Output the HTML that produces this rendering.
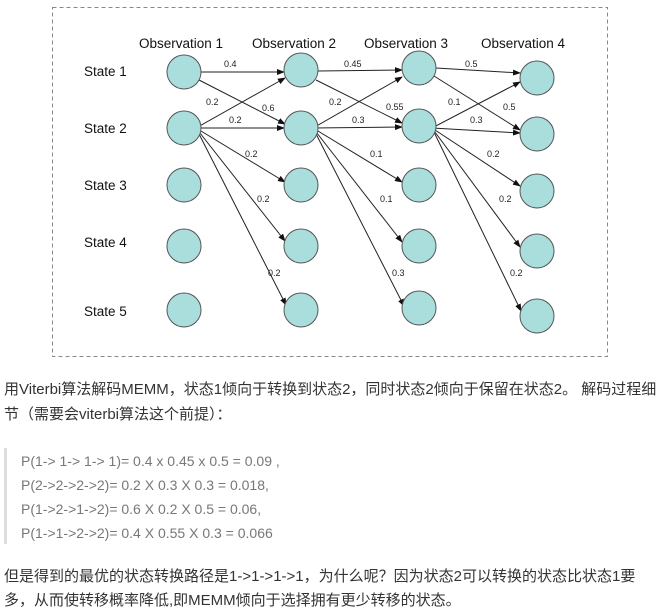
<!DOCTYPE html>
<html><head><meta charset="utf-8"><style>
html,body{margin:0;padding:0;background:#fff;width:659px;height:613px;overflow:hidden;position:relative}
.t{position:absolute;left:4px;font-family:"Liberation Sans","Noto Sans CJK SC",sans-serif;font-size:15px;color:#333;white-space:nowrap;line-height:24px}
.q{position:absolute;left:21px;font-family:"Liberation Sans","Noto Sans CJK SC",sans-serif;font-size:14px;color:#777;white-space:nowrap;line-height:24px}
</style></head><body>
<svg width="659" height="360" style="position:absolute;left:0;top:0" font-family="Liberation Sans, sans-serif">
<defs><marker id="a" markerWidth="8" markerHeight="6" refX="7" refY="3" orient="auto" markerUnits="userSpaceOnUse"><path d="M0,0 L8,3 L0,6z" fill="#111"/></marker></defs>
<rect x="52.5" y="7.5" width="555" height="349" fill="none" stroke="#888" stroke-dasharray="4,3"/>
<g font-size="13.5" fill="#111">
<text x="139" y="48">Observation 1</text><text x="252" y="48">Observation 2</text><text x="364" y="48">Observation 3</text><text x="481" y="48">Observation 4</text>
<text x="84" y="76">State 1</text><text x="84" y="133">State 2</text><text x="84" y="190">State 3</text><text x="84" y="247">State 4</text><text x="84" y="316">State 5</text>
</g>
<g stroke="#222" stroke-width="1" marker-end="url(#a)" fill="none">
<!-- col1 -> col2 -->
<line x1="201" y1="72" x2="284" y2="72"/>
<line x1="199" y1="80" x2="285" y2="124"/>
<line x1="196" y1="128" x2="285" y2="78"/>
<line x1="196" y1="128" x2="284" y2="128"/>
<line x1="196" y1="128" x2="285" y2="182"/>
<line x1="196" y1="128" x2="285" y2="241"/>
<line x1="196" y1="128" x2="286" y2="305"/>
<!-- col2 -> col3 -->
<line x1="318" y1="71" x2="402" y2="70"/>
<line x1="316" y1="80" x2="402" y2="123"/>
<line x1="313" y1="128" x2="402" y2="77"/>
<line x1="313" y1="128" x2="402" y2="127"/>
<line x1="313" y1="128" x2="402" y2="182"/>
<line x1="313" y1="128" x2="402" y2="242"/>
<line x1="313" y1="128" x2="404" y2="306"/>
<!-- col3 -> col4 -->
<line x1="436" y1="68" x2="520" y2="73"/>
<line x1="434" y1="76" x2="520" y2="130"/>
<line x1="432" y1="128" x2="520" y2="82"/>
<line x1="432" y1="128" x2="520" y2="133"/>
<line x1="432" y1="128" x2="520" y2="186"/>
<line x1="432" y1="128" x2="520" y2="247"/>
<line x1="432" y1="128" x2="521" y2="311"/>
</g>
<g fill="#a9dedd" stroke="#555" stroke-width="1">
<circle cx="184" cy="72" r="17"/><circle cx="184" cy="128" r="17"/><circle cx="184" cy="185" r="17"/><circle cx="184" cy="246" r="17"/><circle cx="184" cy="310" r="17"/>
<circle cx="301" cy="70" r="17"/><circle cx="301" cy="128" r="17"/><circle cx="301" cy="185" r="17"/><circle cx="301" cy="246" r="17"/><circle cx="301" cy="310" r="17"/>
<circle cx="419" cy="68" r="17"/><circle cx="419" cy="126" r="17"/><circle cx="419" cy="185" r="17"/><circle cx="419" cy="246" r="17"/><circle cx="419" cy="308" r="17"/>
<circle cx="537" cy="78" r="17"/><circle cx="537" cy="134" r="17"/><circle cx="537" cy="191" r="17"/><circle cx="537" cy="251" r="17"/><circle cx="537" cy="316" r="17"/>
</g>
<g font-size="9" fill="#222">
<text x="224" y="67">0.4</text><text x="206" y="105">0.2</text><text x="262" y="111">0.6</text><text x="229" y="123">0.2</text><text x="245" y="157">0.2</text><text x="257" y="202">0.2</text><text x="268" y="276">0.2</text>
<text x="344" y="67">0.45</text><text x="329" y="105">0.2</text><text x="386" y="110">0.55</text><text x="352" y="123">0.3</text><text x="370" y="157">0.1</text><text x="380" y="202">0.1</text><text x="392" y="276">0.3</text>
<text x="465" y="67">0.5</text><text x="448" y="105">0.1</text><text x="503" y="110">0.5</text><text x="470" y="123">0.3</text><text x="487" y="157">0.2</text><text x="499" y="202">0.2</text><text x="510" y="276">0.2</text>
</g>
</svg>
<div class="t" style="top:378px">用Viterbi算法解码MEMM，状态1倾向于转换到状态2，同时状态2倾向于保留在状态2。 解码过程细</div>
<div class="t" style="top:403px">节（需要会viterbi算法这个前提）：</div>
<div style="position:absolute;left:4px;top:448px;width:3px;height:96px;background:#ddd"></div>
<div class="q" style="top:449px">P(1-&gt; 1-&gt; 1-&gt; 1)= 0.4 x 0.45 x 0.5 = 0.09 ,</div>
<div class="q" style="top:473px">P(2-&gt;2-&gt;2-&gt;2)= 0.2 X 0.3 X 0.3 = 0.018,</div>
<div class="q" style="top:497px">P(1-&gt;2-&gt;1-&gt;2)= 0.6 X 0.2 X 0.5 = 0.06,</div>
<div class="q" style="top:521px">P(1-&gt;1-&gt;2-&gt;2)= 0.4 X 0.55 X 0.3 = 0.066</div>
<div class="t" style="top:565px">但是得到的最优的状态转换路径是1-&gt;1-&gt;1-&gt;1，为什么呢？因为状态2可以转换的状态比状态1要</div>
<div class="t" style="top:589px">多，从而使转移概率降低,即MEMM倾向于选择拥有更少转移的状态。</div>
</body></html>
